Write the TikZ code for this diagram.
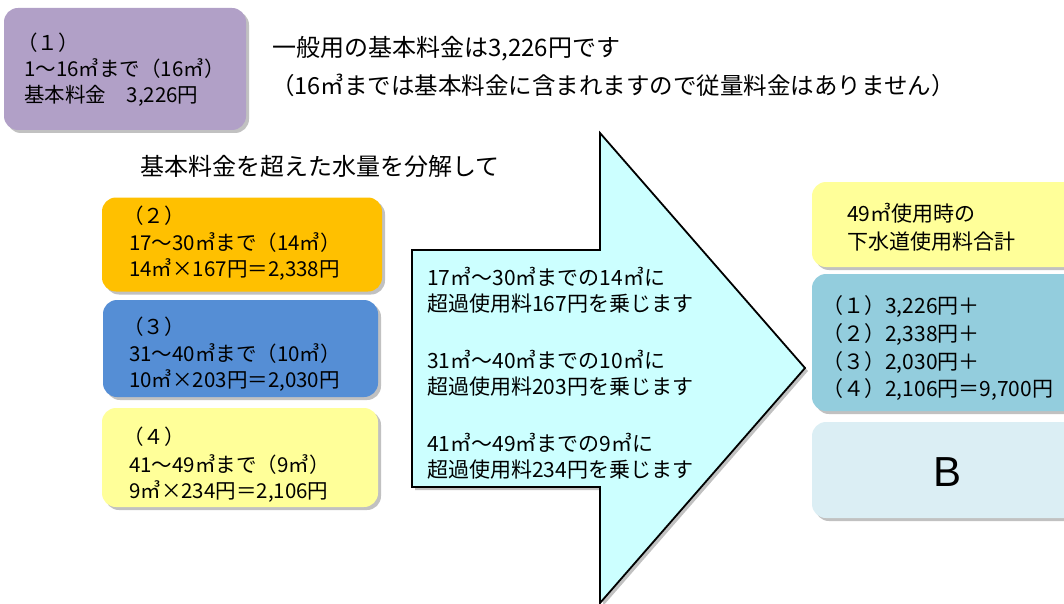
\documentclass[tikz,border=0pt]{standalone}
\usepackage{fontspec}
\setmainfont{Noto Sans CJK JP}
\newfontfamily\latinfont{Liberation Sans}
\usetikzlibrary{shadows}
\definecolor{cpurple}{HTML}{B1A0C7}
\definecolor{corange}{HTML}{FFC000}
\definecolor{cblue}{HTML}{558ED5}
\definecolor{cyellow}{HTML}{FFFF99}
\definecolor{cteal}{HTML}{93CDDD}
\definecolor{clight}{HTML}{DBEEF4}
\definecolor{carrow}{HTML}{CCFFFF}
\begin{document}
\begin{tikzpicture}[x=1pt,y=-1pt,
  box/.style={draw=none, rounded corners=14pt, inner sep=0pt,
    drop shadow={shadow xshift=3pt,shadow yshift=-3pt,opacity=0.35,fill=black!70}},
  txt/.style={anchor=west, inner sep=0pt, font=\fontsize{20.5}{24}\selectfont},
  atxt/.style={anchor=west, inner sep=0pt, font=\fontsize{21}{25}\selectfont},
  ttl/.style={anchor=west, inner sep=0pt, font=\fontsize{24}{28}\selectfont},
  sub/.style={anchor=west, inner sep=0pt, font=\fontsize{23.5}{28}\selectfont}]
\useasboundingbox (0,0) rectangle (1064,604);
\clip (0,0) rectangle (1064,604);
% box (1)
\node[box, fill=cpurple, minimum width=242pt, minimum height=122pt] (b1) at (125,69) {};
\node[txt] (b1a) at (17,43) {（１）};
\node[txt] (b1b) at (24,69) {1～16㎥まで（16㎥）};
\node[txt] (b1c) at (24,96) {基本料金　3,226円};
% titles
\node[ttl] (t1) at (272,49) {一般用の基本料金は3,226円です};
\node[sub] (t2) at (271,85) {（16㎥までは基本料金に含まれますので従量料金はありません）};
\node[ttl] (t3) at (140,166) {基本料金を超えた水量を分解して};
% left boxes
\node[box, fill=corange, minimum width=280pt, minimum height=94pt] (b2) at (242,244.5) {};
\node[txt] (b2a) at (123,216) {（２）};
\node[txt] (b2b) at (129,243) {17～30㎥まで（14㎥）};
\node[txt] (b2c) at (129,270) {14㎥×167円＝2,338円};
\node[box, fill=cblue, minimum width=275pt, minimum height=97pt] (b3) at (240.5,348.5) {};
\node[txt] (b3a) at (123,327) {（３）};
\node[txt] (b3b) at (129,354) {31～40㎥まで（10㎥）};
\node[txt] (b3c) at (129,381) {10㎥×203円＝2,030円};
\node[box, fill=cyellow, minimum width=276pt, minimum height=99pt] (b4) at (240,457.5) {};
\node[txt] (b4a) at (123,437) {（４）};
\node[txt] (b4b) at (129,465) {41～49㎥まで（9㎥）};
\node[txt] (b4c) at (129,492) {9㎥×234円＝2,106円};
% big arrow
\draw[fill=carrow, line width=1.8pt, line join=miter,
  drop shadow={shadow xshift=3pt,shadow yshift=-3pt,opacity=0.35,fill=black!70}]
  (412,250) -- (600,250) -- (600,133) -- (805,368) -- (600,603) -- (600,487) -- (412,487) -- cycle;
\node[atxt] (a1) at (427,277) {17㎥～30㎥までの14㎥に};
\node[atxt] (a2) at (427,304) {超過使用料167円を乗じます};
\node[atxt] (a3) at (427,360) {31㎥～40㎥までの10㎥に};
\node[atxt] (a4) at (427,387) {超過使用料203円を乗じます};
\node[atxt] (a5) at (427,443) {41㎥～49㎥までの9㎥に};
\node[atxt] (a6) at (427,470) {超過使用料234円を乗じます};
% right boxes
\node[box, fill=cyellow, minimum width=270pt, minimum height=85pt] (r1) at (947,224.5) {};
\node[atxt] (r1a) at (847,213) {49㎥使用時の};
\node[atxt] (r1b) at (847,242) {下水道使用料合計};
\node[box, fill=cteal, minimum width=270pt, minimum height=137pt] (r2) at (947,342.5) {};
\node[atxt] (r2a) at (822,307) {（１）3,226円＋};
\node[atxt] (r2b) at (822,335) {（２）2,338円＋};
\node[atxt] (r2c) at (822,363) {（３）2,030円＋};
\node[atxt] (r2d) at (822,390) {（４）2,106円＝9,700円};
\node[box, fill=clight, minimum width=270pt, minimum height=96pt] (r3) at (947,470) {};
\node[inner sep=0pt, font=\latinfont\fontsize{42}{46}\selectfont] (r3a) at (947,472) {B};
\end{tikzpicture}
\end{document}
